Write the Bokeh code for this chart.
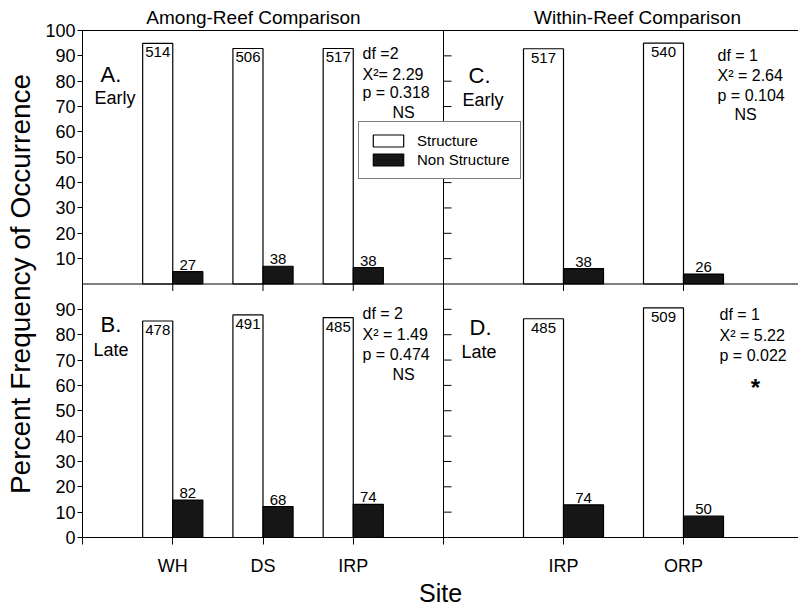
from bokeh.plotting import figure
from bokeh.models import (Range1d, LinearAxis, FixedTicker, Span, Label,
                          Legend, LegendItem, ColumnDataSource)
from bokeh.transform import dodge
from bokeh.core.properties import value
from bokeh.embed import file_html
from bokeh.resources import INLINE

# ---------------- data ----------------
among_sites = ["WH", "DS", "IRP"]
among_pos = [1, 2, 3]
within_sites = ["IRP", "ORP"]
within_pos = [1, 2]

# A. Among-reef, early
a_struct = [94.9, 92.9, 92.9]
a_non = [4.9, 7.0, 6.5]
a_struct_n = [514, 506, 517]
a_non_n = [27, 38, 38]
# B. Among-reef, late
b_struct = [85.4, 87.8, 86.7]
b_non = [14.8, 12.2, 13.1]
b_struct_n = [478, 491, 485]
b_non_n = [82, 68, 74]
# C. Within-reef, early
c_struct = [92.8, 95.0]
c_non = [6.1, 3.9]
c_struct_n = [517, 540]
c_non_n = [38, 26]
# D. Within-reef, late
d_struct = [86.3, 90.6]
d_non = [12.9, 8.4]
d_struct_n = [485, 509]
d_non_n = [74, 50]

y_ticks_panel = [0, 10, 20, 30, 40, 50, 60, 70, 80, 90, 100]
column_titles = ["Among-Reef Comparison", "Within-Reef Comparison"]

# ---------------- layout constants ----------------
W, H = 798, 609
BL, BR, BT, BB = 82, 0, 30, 69
FW, FH = W - BL - BR, H - BT - BB            # frame 716 x 510
LEFT_PX = 361                                # width of left panels
PX_L = LEFT_PX / (len(among_pos) + 1)        # px per unit, left panels
PX_R = 120.0                                 # px per unit, right panels
PX_Y = FH / 200.0                            # px per percent
BW = 1.0 / 3.0                               # bar width (units)
FONT = "Liberation Sans"

p = figure(width=W, height=H, x_range=Range1d(0, FW / PX_L), y_range=Range1d(0, 200),
           output_backend="svg", toolbar_location=None, title=None,
           min_border_left=BL, min_border_right=BR, min_border_top=BT, min_border_bottom=BB,
           background_fill_color="white", border_fill_color="white")
p.extra_x_ranges = {"R": Range1d(-LEFT_PX / PX_R, (FW - LEFT_PX) / PX_R)}
p.extra_y_ranges = {"T": Range1d(-100, 100)}
p.outline_line_color = None
p.grid.visible = False


def to_left_units(r):
    return (LEFT_PX + r * PX_R) / PX_L


# left axis (bottom panel 0..90, top panel 10..100 on the shared scale)
yax = p.yaxis[0]
left_ticks = [v for v in y_ticks_panel if v < 100] + [100 + v for v in y_ticks_panel if v > 0]
yax.ticker = FixedTicker(ticks=left_ticks)
yax.major_label_overrides = {100 + v: str(v) for v in y_ticks_panel if v > 0}
yax.major_tick_out = 5
yax.major_tick_in = 0
yax.minor_tick_out = 0
yax.minor_tick_in = 0
yax.major_label_standoff = 2
yax.major_label_text_font = FONT
yax.major_label_text_font_size = "18px"
yax.major_label_text_color = "black"
yax.axis_line_color = "black"
yax.major_tick_line_color = "black"
yax.axis_label = "Percent Frequency of Occurrence"
yax.axis_label_text_font = FONT
yax.axis_label_text_font_size = "28px"
yax.axis_label_text_font_style = "normal"
yax.axis_label_text_color = "black"
yax.axis_label_standoff = 6

# bottom axis (site names for both column panels)
xax = p.xaxis[0]
r_ticks = [to_left_units(r) for r in within_pos]
bottom_ticks = [0] + among_pos + [len(among_pos) + 1] + r_ticks
overrides = {0: "", len(among_pos) + 1: ""}
for pos, s in zip(among_pos, among_sites):
    overrides[pos] = s
for t, s in zip(r_ticks, within_sites):
    overrides[t] = s
xax.ticker = FixedTicker(ticks=bottom_ticks)
xax.major_label_overrides = overrides
xax.major_tick_out = 7
xax.major_tick_in = 0
xax.minor_tick_out = 0
xax.minor_tick_in = 0
xax.major_label_standoff = 11
xax.major_label_text_font = FONT
xax.major_label_text_font_size = "18px"
xax.major_label_text_color = "black"
xax.axis_line_color = "black"
xax.axis_label = "Site"
xax.axis_label_text_font = FONT
xax.axis_label_text_font_size = "25px"
xax.axis_label_text_font_style = "normal"
xax.axis_label_text_color = "black"
xax.axis_label_standoff = 0

# top border line carrying the two column titles
title_pos = [(253 - BL) / PX_L, to_left_units((637 - BL - LEFT_PX) / PX_R)]
top_ax = LinearAxis(ticker=FixedTicker(ticks=title_pos),
                    major_label_overrides={t: s for t, s in zip(title_pos, column_titles)},
                    axis_line_color="black", major_tick_out=0, major_tick_in=0,
                    minor_tick_out=0, minor_tick_in=0, major_label_standoff=3,
                    major_label_text_font=FONT, major_label_text_font_size="19px",
                    major_label_text_color="black")
p.add_layout(top_ax, "above")

# inner panel borders
p.add_layout(Span(location=len(among_pos) + 1, dimension="height", line_color="black", line_width=1))
p.add_layout(Span(location=100, dimension="width", line_color="black", line_width=1))

# inner ticks: downward from the middle border, rightward from the vertical border
tick_down = 7 / PX_Y
p.segment(x0=among_pos, y0=[0] * 3, x1=among_pos, y1=[-tick_down] * 3,
          line_color="black", y_range_name="T")
p.segment(x0=within_pos, y0=[0] * 2, x1=within_pos, y1=[-tick_down] * 2,
          line_color="black", x_range_name="R", y_range_name="T")
inner = [v for v in y_ticks_panel if 0 < v < 100]
for yr in ("T", "default"):
    p.segment(x0=[0] * len(inner), y0=inner, x1=[8 / PX_R] * len(inner), y1=inner,
              line_color="black", x_range_name="R", y_range_name=yr)


# bars
def panel(pos, struct, non, sn, nn, xr, yr):
    src = ColumnDataSource(dict(pos=pos, struct=struct, non=non,
                                sn=[str(v) for v in sn], nn=[str(v) for v in nn]))
    rw = p.vbar(x=dodge("pos", -BW / 2), top="struct", bottom=0, width=BW, source=src,
                fill_color="white", line_color="black", line_width=1.2,
                x_range_name=xr, y_range_name=yr)
    rb = p.vbar(x=dodge("pos", BW / 2), top="non", bottom=0, width=BW, source=src,
                fill_color="#161616", line_color="black", line_width=1.2,
                x_range_name=xr, y_range_name=yr)
    p.text(x=dodge("pos", -BW / 2), y="struct", text="sn", source=src,
           text_align="center", text_baseline="top", y_offset=4,
           text_font=value(FONT), text_font_size="15px", text_color="black",
           x_range_name=xr, y_range_name=yr)
    p.text(x=dodge("pos", BW / 2), y="non", text="nn", source=src,
           text_align="center", text_baseline="bottom", y_offset=-2,
           text_font=value(FONT), text_font_size="15px", text_color="black",
           x_range_name=xr, y_range_name=yr)
    return rw, rb


rw, rb = panel(among_pos, a_struct, a_non, a_struct_n, a_non_n, "default", "T")
panel(among_pos, b_struct, b_non, b_struct_n, b_non_n, "default", "default")
panel(within_pos, c_struct, c_non, c_struct_n, c_non_n, "R", "T")
panel(within_pos, d_struct, d_non, d_struct_n, d_non_n, "R", "default")

# text annotations inside the frame, placed in page pixels
FL, FBOT = BL, BT + FH


def put(txt, px, py, size, align="left", style="normal"):
    p.add_layout(Label(x=px - FL, y=FBOT - py, x_units="screen", y_units="screen",
                       text=txt, text_font=FONT, text_font_size=f"{size}px",
                       text_align=align, text_baseline="alphabetic",
                       text_color="black", text_font_style=style))


put("A.", 100, 77, 22)
put("Early", 94, 100, 18)
put("B.", 100, 327, 22)
put("Late", 93, 352, 18)
put("C.", 468, 78, 22)
put("Early", 462, 102, 18)
put("D.", 469, 330, 22)
put("Late", 461, 354, 18)

put("df =2", 362, 56, 16)
put("X\u00b2= 2.29", 362, 77, 16)
put("p = 0.318", 362, 95, 16)
put("NS", 403, 115, 16, "center")

put("df = 2", 362, 316, 16)
put("X\u00b2 = 1.49", 362, 337, 16)
put("p = 0.474", 362, 357, 16)
put("NS", 403, 377, 16, "center")

put("df = 1", 717, 58, 16)
put("X\u00b2 = 2.64", 717, 78, 16)
put("p = 0.104", 717, 98, 16)
put("NS", 745, 117, 16, "center")

put("df = 1", 719, 317, 16)
put("X\u00b2 = 5.22", 719, 338, 16)
put("p = 0.022", 719, 358, 16)
put("*", 755, 390, 24, "center", "bold")

legend = Legend(items=[LegendItem(label="Structure", renderers=[rw]),
                       LegendItem(label="Non Structure", renderers=[rb])],
                location=(358 - FL, FBOT - 182), margin=0, padding=10, spacing=2,
                glyph_width=38, glyph_height=15, label_height=15, label_standoff=10,
                label_text_font=FONT, label_text_font_size="15px", label_text_color="black",
                border_line_color="black", border_line_width=1,
                background_fill_color="white", background_fill_alpha=1.0)
p.add_layout(legend, "center")

open("out.html", "w").write(file_html(p, INLINE))
